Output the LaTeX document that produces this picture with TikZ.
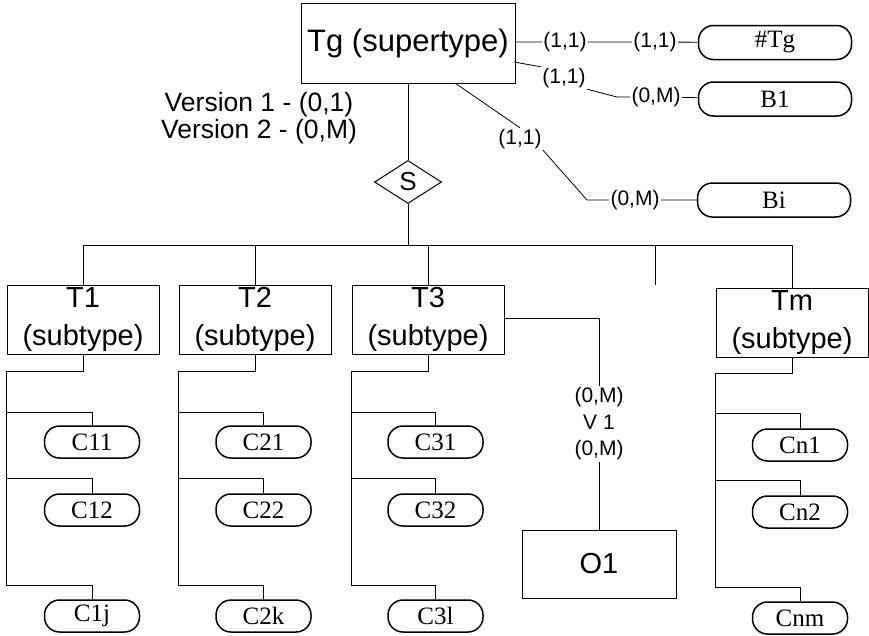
\documentclass[tikz,border=0pt]{standalone}
\usepackage{fontspec}
\setmainfont{Liberation Serif}
\newfontfamily\arial{Liberation Sans}
\usetikzlibrary{shapes.geometric}
\begin{document}
\begin{tikzpicture}[x=1pt,y=-1pt, line width=0.8pt,
 ent/.style={draw, line width=1pt, font=\arial\fontsize{29}{38}\selectfont, align=center, inner sep=0pt},
 subent/.style={ent, minimum width=152pt, minimum height=69pt},
 pill/.style={draw, rounded corners=15pt, minimum width=95pt, minimum height=32pt, font=\fontsize{25}{26}\selectfont, inner sep=0pt, line width=1.5pt},
 bigpill/.style={pill, minimum width=153pt, minimum height=34pt},
 lbl/.style={font=\arial\fontsize{21}{26.5}\selectfont, inner sep=1pt, align=center},
]
\useasboundingbox (0,0) rectangle (869,635);

% supertype
\node[ent, minimum width=214pt, minimum height=80pt, font=\arial\fontsize{31}{36}\selectfont] (tg) at (408,43) {Tg (supertype)};
\node[draw, diamond, line width=1pt, minimum width=67pt, minimum height=43pt, inner sep=0pt,
      font=\arial\fontsize{26}{28}\selectfont] (s) at (408,182) {S};
\node[font=\arial\fontsize{26.5}{27}\selectfont, align=center] (ver) at (259,118) {Version 1 - (0,1)\\Version 2 - (0,M)};

% attribute pills of supertype
\node[bigpill] (tgid) at (775,42.5) {\#Tg};
\node[bigpill] (b1) at (775,99) {B1};
\node[bigpill] (bi) at (774,200) {Bi};

\node[lbl] (a1) at (565,42) {(1,1)};
\node[lbl] (a2) at (655,42) {(1,1)};
\draw (tg.east |- a1) -- (a1) -- (a2) -- (tgid);

\coordinate (p2) at (514,62);
\node[lbl] (b1a) at (564,78) {(1,1)};
\coordinate (k2) at (617,97);
\node[lbl] (b1b) at (656,97) {(0,M)};
\draw (p2) -- (b1a.north west);
\draw (b1a.south east) -- (k2) -- (b1b) -- (b1);

\coordinate (p3) at (455,83);
\node[lbl] (bia) at (520,139) {(1,1)};
\coordinate (k3) at (587,200);
\node[lbl] (bib) at (635,200) {(0,M)};
\draw (p3) -- (bia.north);
\draw (bia.south east) -- (k3) -- (bib) -- (bi);

% subtypes
\node[subent] (t1) at (83,319.5) {T1\\(subtype)};
\node[subent] (t2) at (255,319.5) {T2\\(subtype)};
\node[subent] (t3) at (428,319.5) {T3\\(subtype)};
\node[subent] (tm) at (792,322.5) {Tm\\(subtype)};

\coordinate (hb) at (0,245);
\coordinate (stubtop) at (655,245);
\coordinate (stubbot) at (655,285);
\draw (tg.south) -- (s.north);
\draw (s.south) -- (s |- hb);
\draw (t1.north) -- (t1 |- hb) -- (tm |- hb) -- (tm.north);
\draw (t2.north) -- (t2 |- hb);
\draw (t3.north) -- (t3 |- hb);
\draw (stubtop) -- (stubbot);

% pills T1
\node[pill] (c11) at (92,442) {C11};
\node[pill] (c12) at (92,510) {C12};
\node[pill] (c1j) at (92,616) {C1j};
% pills T2
\node[pill] (c21) at (263.5,442) {C21};
\node[pill] (c22) at (263.5,510) {C22};
\node[pill] (c2k) at (263.5,616) {C2k};
% pills T3
\node[pill] (c31) at (435.5,442) {C31};
\node[pill] (c32) at (435.5,510) {C32};
\node[pill] (c3l) at (435.5,616) {C3l};
% pills Tm
\node[pill] (cn1) at (800,445) {Cn1};
\node[pill] (cn2) at (800,512) {Cn2};
\node[pill] (cnm) at (800,618) {Cnm};

% attribute trees
\foreach \t/\a/\b/\c/\ya/\yb/\yc/\yt in {t1/c11/c12/c1j/412/478/585/371, t2/c21/c22/c2k/412/478/585/371, t3/c31/c32/c3l/412/478/585/371, tm/cn1/cn2/cnm/413/480/587/373}{
  \draw (\t.south) -- (\t.south |- 0,\yt) -- (\t.west |- 0,\yt) -- (\t.west |- 0,\yc) -- (\c.north |- 0,\yc) -- (\c.north);
  \draw (\t.west |- 0,\ya) -- (\a.north |- 0,\ya) -- (\a.north);
  \draw (\t.west |- 0,\yb) -- (\b.north |- 0,\yb) -- (\b.north);
}

% O1
\node[ent, minimum width=154pt, minimum height=68pt] (o1) at (599,564) {O1};
\node[lbl] (vl) at (599,424) {(0,M)\\V 1\\(0,M)};
\draw (t3.east |- 0,318) -| (vl.north);
\draw (vl.south) -- (o1.north);
\end{tikzpicture}
\end{document}
